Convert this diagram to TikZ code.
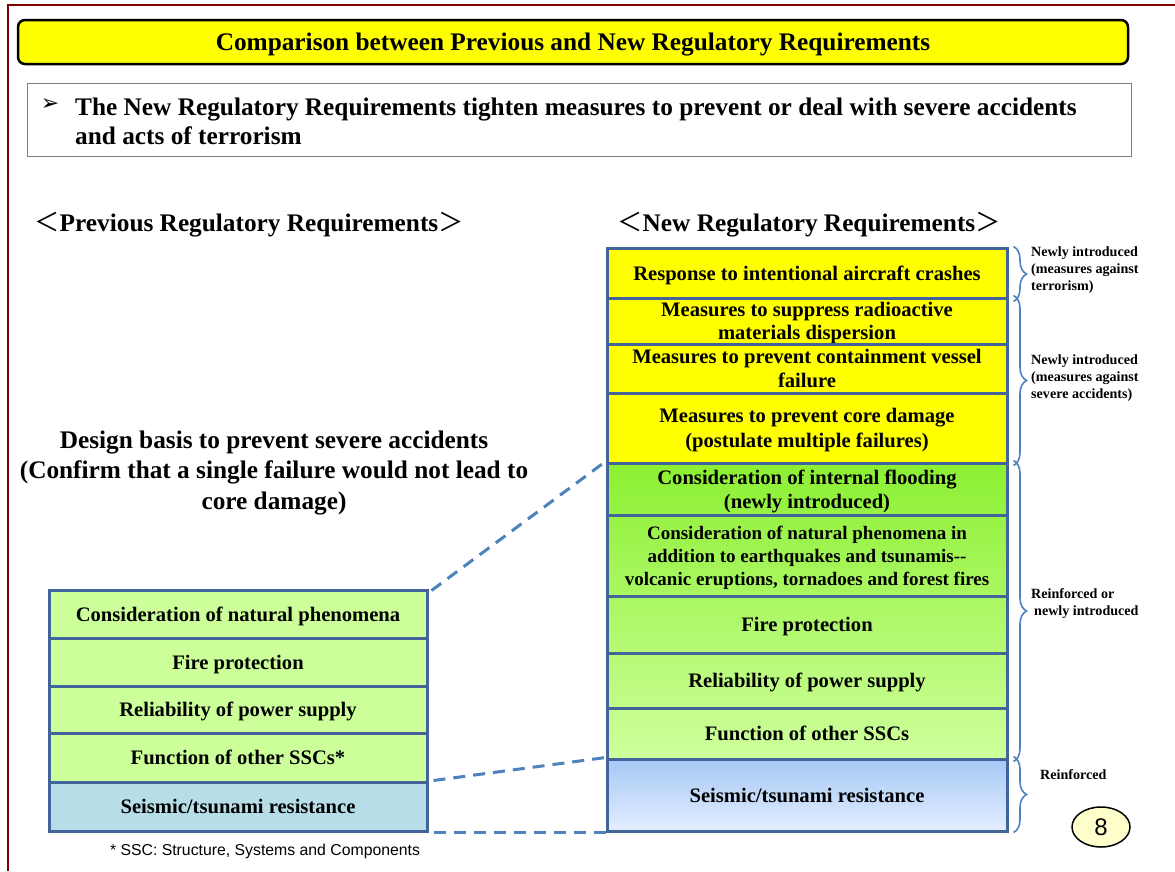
\documentclass[tikz,border=0pt]{standalone}
\usepackage{fontspec}
\setmainfont{Liberation Serif}
\newfontfamily\sansf{Liberation Sans}
\newfontfamily\dejavu{DejaVu Sans}
\newfontfamily\cjkf{Noto Sans CJK JP}
\usetikzlibrary{shapes.geometric,decorations.pathreplacing}
\definecolor{framered}{RGB}{128,0,0}
\definecolor{bord}{RGB}{66,100,155}
\definecolor{dashblue}{RGB}{79,129,189}
\definecolor{pureyellow}{RGB}{255,255,0}
\definecolor{lgreen}{RGB}{204,255,153}
\definecolor{lblue}{RGB}{183,222,232}
\definecolor{gtop}{RGB}{140,240,50}
\definecolor{gbot}{RGB}{206,255,156}
\definecolor{btop}{RGB}{165,200,245}
\definecolor{bbot}{RGB}{228,238,255}
\definecolor{paleyellow}{RGB}{255,255,204}
\newcommand{\fsz}[2]{\fontsize{#1}{#2}\selectfont}
\begin{document}
\begin{tikzpicture}[x=1pt,y=-1pt,
  boxtext/.style={font=\bfseries\fsz{20.6}{23.5}, align=center, inner sep=0pt, text depth=0pt},
  rbox/.style={boxtext, draw=bord, line width=3pt, minimum width=400pt},
  lbox/.style={boxtext, draw=bord, line width=3pt, minimum width=378pt},
  bigtext/.style={font=\bfseries\fsz{25.3}{30}, inner sep=0pt, text depth=0pt},
  sidelabel/.style={font=\bfseries\fsz{14.1}{17}, align=left, inner sep=0pt, anchor=west, text depth=0pt},
  brc/.style={draw=dashblue, line width=1.6pt, decorate, decoration={brace, amplitude=13pt}},
  dashconn/.style={draw=dashblue, line width=3pt, dash pattern=on 12pt off 8pt}
]
\useasboundingbox (0,0) rectangle (1175,871);
\fill[white] (0,0) rectangle (1175,871);

% frame
\draw[framered, line width=2.5pt] (8,871) -- (8,5) -- (1175,5);

% title
\node[draw=black, line width=2.5pt, fill=pureyellow, rounded corners=7pt,
      minimum width=1110pt, minimum height=44pt, inner sep=0pt, text depth=0pt,
      font=\bfseries\fsz{25.3}{28}] (title) at (573,42)
      {Comparison between Previous and New Regulatory Requirements};

% subtitle box
\node[draw=gray, line width=1pt, minimum width=1104pt, minimum height=73pt, inner sep=0pt] (subbox) at (579,119.5) {};
\node[font=\dejavu\fsz{22}{24}, inner sep=0pt] (bullet) at (50,105) {➢};
\node[bigtext, font=\bfseries\fsz{25.3}{29}, align=left, anchor=west] (sub) at (75,121.5)
  {The New Regulatory Requirements tighten measures to prevent or deal with severe accidents\\and acts of terrorism};

% headers
\node[bigtext] (hprev) at (249,222)
  {{\cjkf\mdseries ＜}Previous Regulatory Requirements{\cjkf\mdseries ＞}};
\node[bigtext] (hnew) at (809,222)
  {{\cjkf\mdseries ＜}New Regulatory Requirements{\cjkf\mdseries ＞}};

% design basis
\node[bigtext, font=\bfseries\fsz{25.3}{30.5}, align=center] (design) at (274,470)
  {Design basis to prevent severe accidents\\(Confirm that a single failure would not lead to\\core damage)};

% right stack shadings
\shade[top color=gtop, bottom color=gbot] (607,463) rectangle (1007,759);
\shade[top color=btop, bottom color=bbot] (607,759) rectangle (1007,831);

% right stack
\node[rbox, fill=pureyellow, minimum height=50pt] (r1) at (807,273) {Response to intentional aircraft crashes};
\node[rbox, fill=pureyellow, minimum height=46pt] (r2) at (807,321) {Measures to suppress radioactive\\materials dispersion};
\node[rbox, fill=pureyellow, minimum height=49pt] (r3) at (807,368.5) {Measures to prevent containment vessel\\failure};
\node[rbox, fill=pureyellow, minimum height=70pt, font=\bfseries\fsz{20.6}{25}] (r4) at (807,428) {Measures to prevent core damage\\(postulate multiple failures)};
\node[rbox, minimum height=52pt] (r5) at (807,489) {Consideration of internal flooding\\(newly introduced)};
\node[rbox, minimum height=81pt, font=\bfseries\fsz{19}{23}] (r6) at (807,555.5) {Consideration of natural phenomena in\\addition to earthquakes and tsunamis-{}-\\volcanic eruptions, tornadoes and forest fires};
\node[rbox, minimum height=57pt] (r7) at (807,624.5) {Fire protection};
\node[rbox, minimum height=55pt] (r8) at (807,680.5) {Reliability of power supply};
\node[rbox, minimum height=51pt] (r9) at (807,733.5) {Function of other SSCs};
\node[rbox, minimum height=72pt] (r10) at (807,795) {Seismic/tsunami resistance};

% left stack
\node[lbox, fill=lgreen, minimum height=48pt] (l1) at (238,614) {Consideration of natural phenomena};
\node[lbox, fill=lgreen, minimum height=48pt] (l2) at (238,662) {Fire protection};
\node[lbox, fill=lgreen, minimum height=47pt] (l3) at (238,709.5) {Reliability of power supply};
\node[lbox, fill=lgreen, minimum height=49pt] (l4) at (238,757.5) {Function of other SSCs*};
\node[lbox, fill=lblue, minimum height=49pt] (l5) at (238,806.5) {Seismic/tsunami resistance};

% footnote
\node[font=\sansf\fsz{15.8}{18}, inner sep=0pt, text depth=0pt] (foot) at (265,850) {* SSC: Structure, Systems and Components};

% dashed connectors
\draw[dashconn] ([xshift=3pt,yshift=-2pt]l1.north east) -- (r5.north west);
\draw[dashconn] ([xshift=5pt]l5.north east) -- (r10.north west);
\draw[dashconn] ([xshift=5pt]l5.south east) -- (r10.south west);

% braces
\draw[brc] ([xshift=5pt,yshift=0pt]r1.north east) -- ([xshift=5pt,yshift=-2pt]r1.south east);
\draw[brc] ([xshift=5pt,yshift=1pt]r2.north east) -- ([xshift=5pt,yshift=-1pt]r4.south east);
\draw[brc] ([xshift=5pt,yshift=1pt]r5.north east) -- ([xshift=5pt,yshift=-1pt]r9.south east);
\draw[brc] ([xshift=5pt,yshift=1pt]r10.north east) -- ([xshift=5pt]r10.south east);

% side labels
\node[sidelabel] (s1) at (1031,269) {Newly introduced\\(measures against\\terrorism)};
\node[sidelabel] (s2) at (1031,377) {Newly introduced\\(measures against\\severe accidents)};
\node[sidelabel] (s3) at (1031,602.5) {Reinforced or\\\hspace{3pt}newly introduced};
\node[sidelabel] (s4) at (1040,775) {Reinforced};

% page number
\node[ellipse, draw=black, line width=1.5pt, fill=paleyellow, minimum width=58pt, minimum height=40pt,
      inner sep=0pt, font=\sansf\fsz{24}{28}] (page) at (1101,827) {8};
\end{tikzpicture}
\end{document}
